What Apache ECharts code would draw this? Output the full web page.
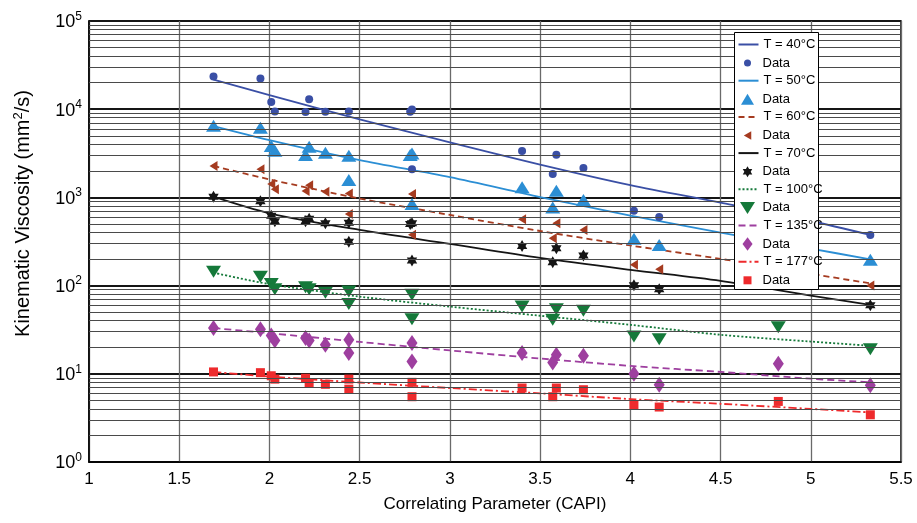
<!DOCTYPE html>
<html>
<head>
<meta charset="utf-8">
<script src="https://cdn.jsdelivr.net/npm/echarts@6/dist/echarts.min.js"></script>
<style>
html, body { margin: 0; padding: 0; background: #fff; }
#main { width: 917px; height: 523px; }
</style>
</head>
<body>
<div id="main"></div>
<script>
// measured points (CAPI, viscosity mm2/s) for each temperature
let capi40 = [1.69, 1.95, 2.01, 2.03, 2.22, 2.20, 2.31, 2.44, 2.78, 2.79, 2.79, 3.40, 3.59, 3.57, 3.74, 4.02, 4.16, 5.33];
let visc40 = [23500, 22300, 12100, 9440, 13000, 9270, 9350, 9440, 9350, 9950, 2080, 3350, 3050, 1840, 2150, 707, 600, 375];

let capi50 = [1.69, 1.95, 2.01, 2.03, 2.22, 2.20, 2.31, 2.44, 2.44, 2.78, 2.79, 2.79, 3.40, 3.59, 3.57, 3.74, 4.02, 4.16, 5.33];
let visc50 = [6500, 6150, 3820, 3380, 3750, 3020, 3210, 2970, 1575, 3020, 3150, 841, 1300, 1190, 770, 935, 340, 288, 196];

let capi60 = [1.69, 1.95, 2.01, 2.03, 2.22, 2.20, 2.31, 2.44, 2.44, 2.79, 2.79, 3.40, 3.59, 3.57, 3.74, 4.02, 4.16, 5.33];
let visc60 = [2270, 2080, 1420, 1235, 1370, 1180, 1160, 1110, 649, 1093, 378, 565, 509, 344, 427, 172, 153, 100];

let capi70 = [1.69, 1.95, 2.01, 2.03, 2.22, 2.20, 2.31, 2.44, 2.44, 2.78, 2.79, 2.79, 3.40, 3.59, 3.57, 3.74, 4.02, 4.16, 5.33];
let visc70 = [1018, 903, 621, 536, 574, 536, 509, 517, 315, 500, 510, 192, 282, 265, 184, 219, 101, 91, 60];

let capi100 = [1.69, 1.95, 2.01, 2.03, 2.20, 2.22, 2.31, 2.44, 2.44, 2.79, 2.79, 3.40, 3.59, 3.57, 3.74, 4.02, 4.16, 4.82, 5.33];
let visc100 = [144, 126, 104, 91, 96, 91, 83, 85.5, 62, 78.5, 41.6, 57.8, 54, 40.9, 51.7, 26.4, 24.7, 33.8, 19];

let capi135 = [1.69, 1.95, 2.01, 2.03, 2.20, 2.22, 2.31, 2.44, 2.44, 2.79, 2.79, 3.40, 3.59, 3.57, 3.74, 4.02, 4.16, 4.82, 5.33];
let visc135 = [33, 32, 27.2, 23.8, 25.4, 23.8, 21.3, 24.3, 17.2, 22.3, 13.8, 17.2, 16.4, 13.4, 16, 10, 7.5, 13, 7.4];

let capi177 = [1.69, 1.95, 2.01, 2.03, 2.20, 2.22, 2.31, 2.44, 2.44, 2.79, 2.79, 3.40, 3.59, 3.57, 3.74, 4.02, 4.16, 4.82, 5.33];
let visc177 = [10.5, 10.3, 9.5, 8.7, 8.9, 7.85, 7.6, 8.7, 6.7, 8.0, 5.5, 6.9, 6.9, 5.5, 6.6, 4.46, 4.2, 4.86, 3.43];

// fitted curves
let fitCapi = [1.69, 2.0, 2.5, 3.0, 3.5, 4.0, 4.5, 5.0, 5.33];
let fit40 = [21700, 14400, 7660, 4210, 2360, 1380, 871, 540, 375];
let fit50 = [6440, 4470, 2650, 1700, 1010, 622, 399, 263, 198];
let fit60 = [2270, 1600, 972, 632, 416, 285, 201, 136, 106];
let fit70 = [1018, 661, 428, 297, 206, 151, 113, 77, 60.5];
let fit100 = [140, 104, 75, 57.8, 45.5, 35.9, 27.7, 23.2, 20.8];
let fit135 = [33, 28.9, 23, 18.4, 14.9, 12.3, 10.5, 8.8, 8];
let fit177 = [10.5, 9.3, 7.97, 6.9, 6.0, 5.17, 4.57, 4.0, 3.65];

let tempLabels = ['T = 40°C', 'T = 50°C', 'T = 60°C', 'T = 70°C', 'T = 100°C', 'T = 135°C', 'T = 177°C'];

const font = '"Liberation Sans", Arial, Helvetica, sans-serif';
const hexagram = 'path://M0,-100L28.87,-50L86.6,-50L57.74,0L86.6,50L28.87,50L0,100L-28.87,50L-86.6,50L-57.74,0L-86.6,-50L-28.87,-50Z';

let groups = [
    { x: capi40, y: visc40, fit: fit40, color: '#3A4FA5', line: 'solid', symbol: 'circle', size: 8, rot: 0,
      icon: 'circle', iconW: 7, iconH: 7 },
    { x: capi50, y: visc50, fit: fit50, color: '#2B8ED4', line: 'solid', symbol: 'triangle', size: [15, 12], rot: 0,
      icon: 'path://M6.5,0L13,11L0,11Z', iconW: 13, iconH: 11 },
    { x: capi60, y: visc60, fit: fit60, color: '#A53B20', line: [6, 4], symbol: 'triangle', size: [10, 8], rot: 90,
      icon: 'path://M0,4L7,0L7,8Z', iconW: 7.4, iconH: 8.5 },
    { x: capi70, y: visc70, fit: fit70, color: '#151515', line: 'solid', symbol: hexagram, size: 12, rot: 0,
      icon: hexagram, iconW: 9.5, iconH: 11 },
    { x: capi100, y: visc100, fit: fit100, color: '#15793A', line: [2, 2], symbol: 'triangle', size: [15, 12], rot: 180,
      icon: 'path://M0,0L15,0L7.5,12Z', iconW: 15, iconH: 12 },
    { x: capi135, y: visc135, fit: fit135, color: '#9E3F9F', line: [7, 4], symbol: 'diamond', size: [11, 16], rot: 0,
      icon: 'path://M5,0L10,6.7L5,13.4L0,6.7Z', iconW: 10, iconH: 13.5 },
    { x: capi177, y: visc177, fit: fit177, color: '#EE2A2C', line: [8, 3, 2, 3], symbol: 'rect', size: 9, rot: 0,
      icon: 'path://M0,0L8,0L8,8L0,8Z', iconW: 8, iconH: 8 }
];

// minor log grid lines (2..9 in each decade)
let minorLines = [];
for (let k = 0; k < 5; k++) {
    for (let m = 2; m < 10; m++) {
        minorLines.push({ yAxis: m * Math.pow(10, k) });
    }
}

let series = [{
    type: 'line',
    data: [],
    silent: true,
    z: 1,
    markLine: {
        silent: true,
        symbol: ['none', 'none'],
        label: { show: false },
        lineStyle: { color: '#4a4a4a', width: 1, type: 'solid' },
        emphasis: { disabled: true },
        data: minorLines
    }
}];

// one small legend per row so every marker keeps its own size
// (legend box is placed by its bounding rect, so offsets account for icon size)
let legends = [];
let rowTop = 45, rowStep = 18.1, iconCenter = 747.5, textH = 13;

groups.forEach((g, i) => {
    let name = tempLabels[i];
    let dataName = 'Data' + i;
    series.push({
        name: name,
        type: 'line',
        data: fitCapi.map((c, j) => [c, g.fit[j]]),
        smooth: 0.3,
        symbol: 'none',
        z: 2,
        lineStyle: { color: g.color, width: 1.8, type: g.line },
        itemStyle: { color: g.color }
    });
    series.push({
        name: dataName,
        type: 'scatter',
        data: g.x.map((c, j) => [c, g.y[j]]),
        symbol: g.symbol,
        symbolSize: g.size,
        symbolRotate: g.rot,
        symbolKeepAspect: true,
        z: 3,
        itemStyle: { color: g.color, opacity: 1 }
    });

    let c1 = rowTop + (2 * i) * rowStep;
    let c2 = rowTop + (2 * i + 1) * rowStep;
    legends.push({
        left: iconCenter - 10, top: c1 - 7, padding: 0, z: 20,
        itemWidth: 20, itemHeight: 14,
        selectedMode: false,
        textStyle: { fontSize: 13, color: '#000', fontFamily: font },
        data: [{ name: name, itemStyle: { opacity: 0 } }]
    });
    legends.push({
        left: iconCenter - g.iconW / 2, top: c2 - Math.max(g.iconH, textH) / 2, padding: 0, z: 20,
        itemWidth: 20, itemHeight: g.iconH,
        selectedMode: false,
        textStyle: { fontSize: 13, color: '#000', fontFamily: font },
        formatter: () => 'Data',
        data: [{ name: dataName, icon: g.icon }]
    });
});

let options = {
    animation: false,
    grid: {
        left: 89, right: 16, top: 21, bottom: 61,
        show: true, borderColor: '#000', borderWidth: 1.5
    },
    graphic: [{
        type: 'rect',
        left: 734, top: 32, z: 10, silent: true,
        shape: { width: 84, height: 257 },
        style: { fill: '#fff', stroke: '#000', lineWidth: 1 }
    }],
    legend: legends,
    xAxis: {
        type: 'value',
        min: 1, max: 5.5, interval: 0.5,
        axisLine: { show: true, lineStyle: { color: '#000', width: 1.5 } },
        axisTick: { show: false },
        axisLabel: { fontSize: 17, color: '#000', fontFamily: font, margin: 9 },
        splitLine: { show: true, lineStyle: { color: '#6a6a6a', width: 1.3 } },
        name: 'Correlating Parameter (CAPI)',
        nameLocation: 'middle',
        nameGap: 34,
        nameTextStyle: { fontSize: 17, color: '#000', fontFamily: font }
    },
    yAxis: {
        type: 'log',
        logBase: 10,
        min: 1, max: 100000,
        axisLine: { show: true, lineStyle: { color: '#000', width: 1.5 } },
        axisTick: { show: false },
        axisLabel: {
            margin: 7,
            formatter: v => '{b|10}{s|' + Math.round(Math.log10(v)) + '}',
            rich: {
                b: { fontSize: 18, color: '#000', fontFamily: font, verticalAlign: 'bottom' },
                s: { fontSize: 12, color: '#000', fontFamily: font, verticalAlign: 'bottom', padding: [0, 0, 9, 0] }
            }
        },
        splitLine: { show: true, lineStyle: { color: '#151515', width: 1.8 } },
        name: 'Kinematic Viscosity (mm{s|2}/s)',
        nameLocation: 'middle',
        nameGap: 54,
        nameTextStyle: {
            fontSize: 20, color: '#000', fontFamily: font,
            padding: [0, 0, 0, 56],
            rich: {
                s: { fontSize: 13, color: '#000', fontFamily: font, verticalAlign: 'bottom', padding: [0, 0, 10, 0] }
            }
        }
    },
    series: series
};

let myChart = echarts.init(document.getElementById('main'));
myChart.setOption(options);
</script>
</body>
</html>
